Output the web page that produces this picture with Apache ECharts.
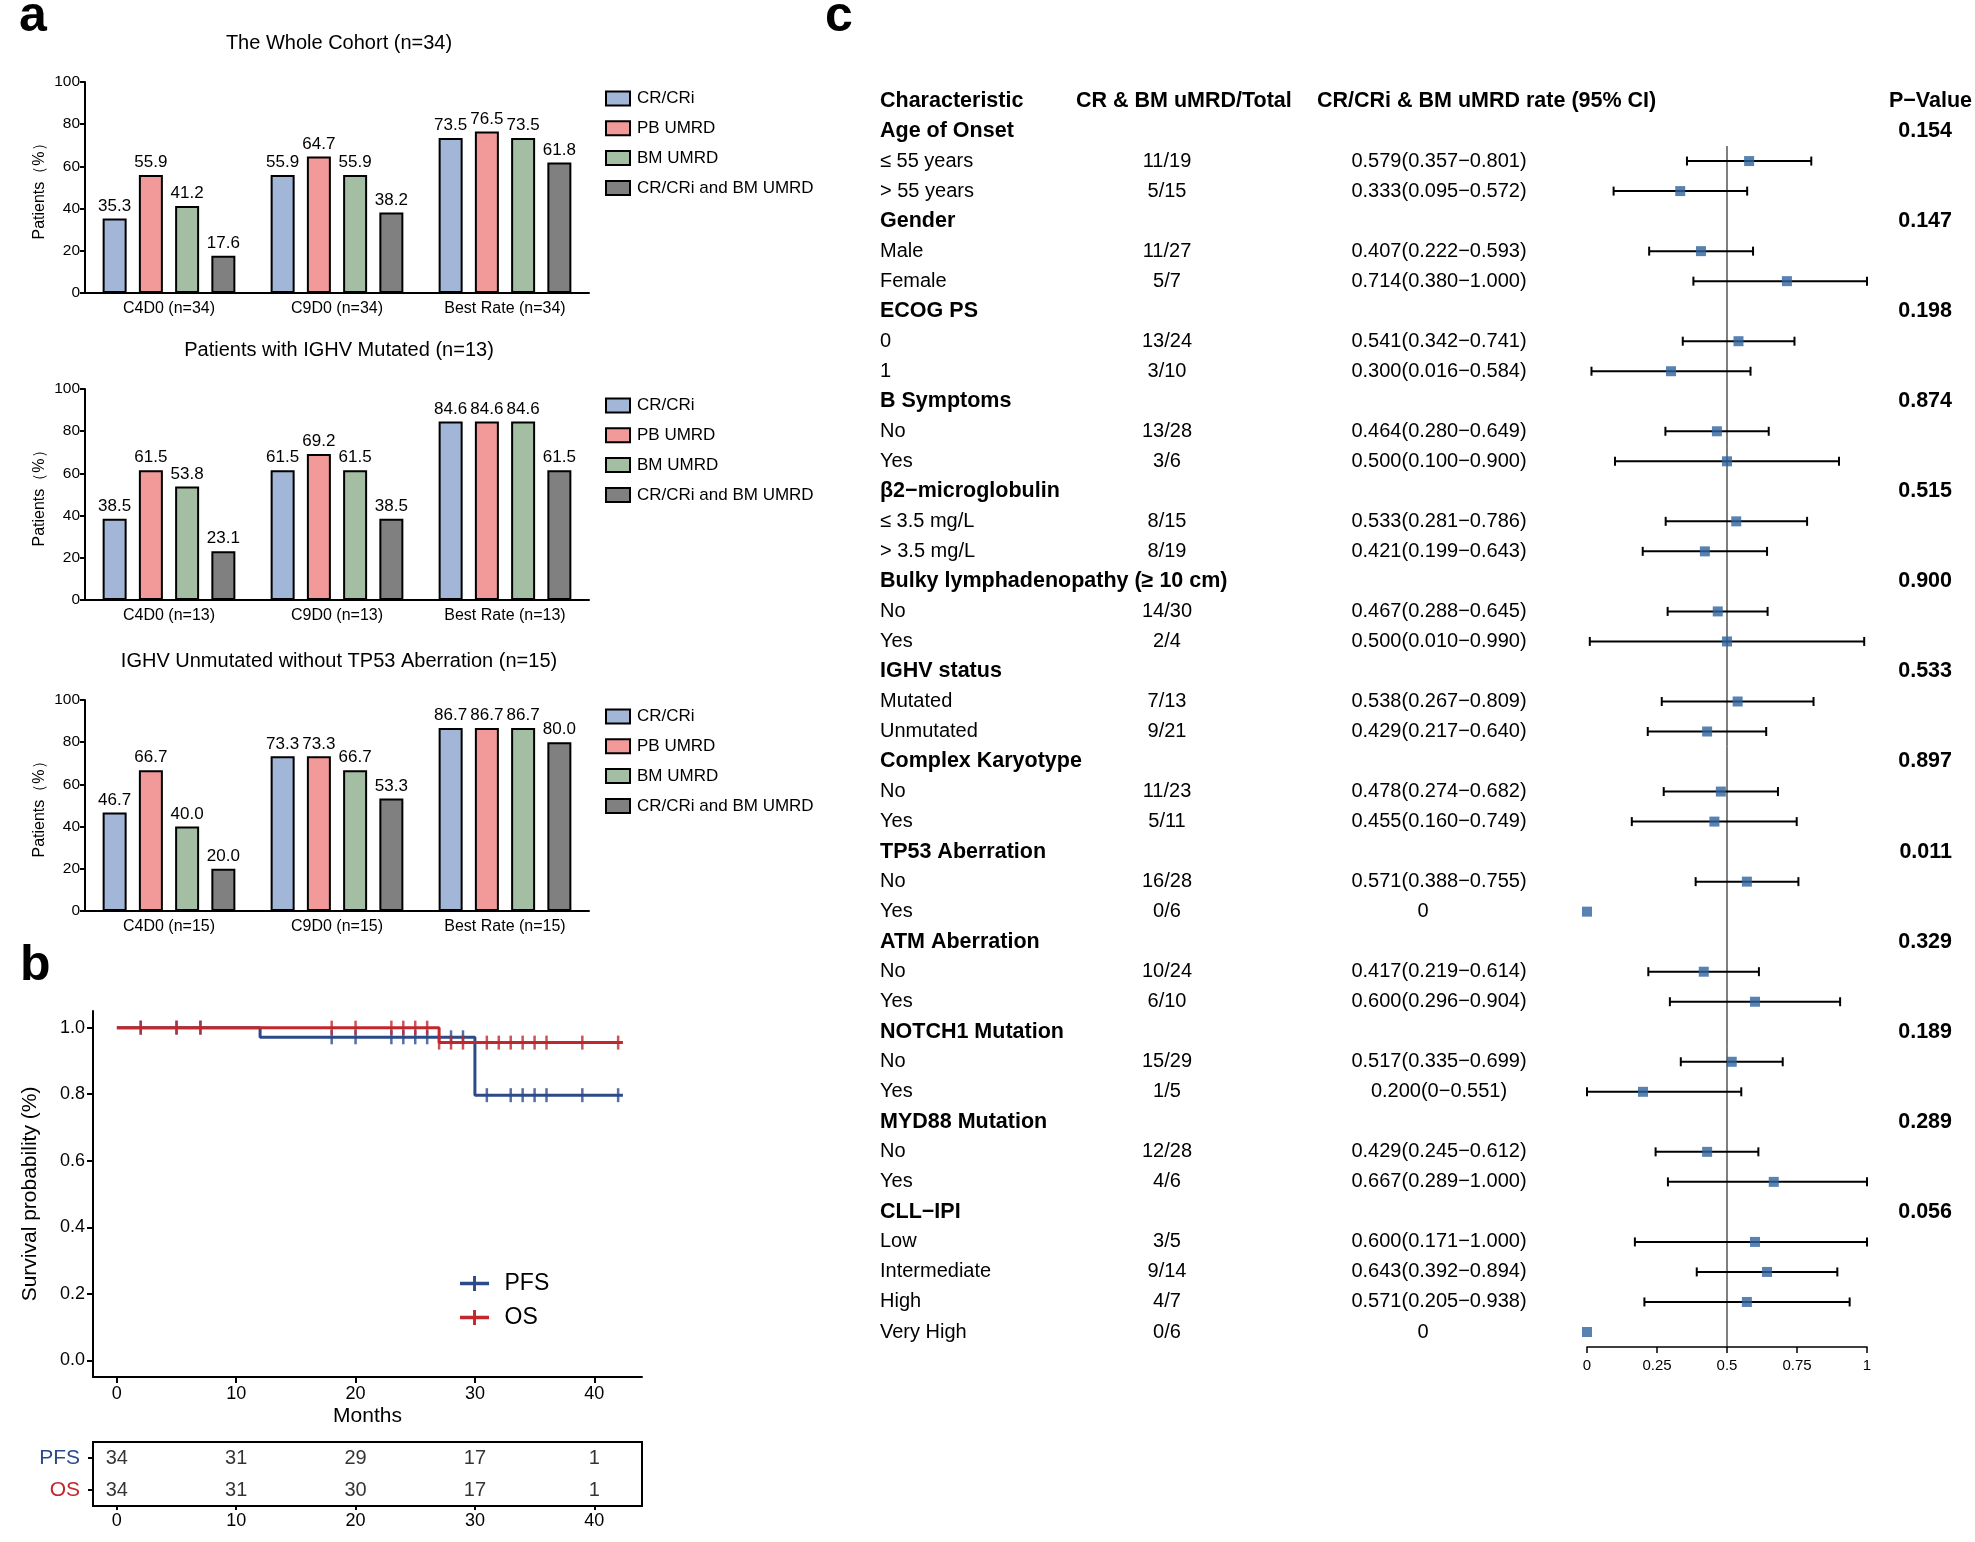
<!DOCTYPE html>
<html><head><meta charset="utf-8">
<script src="https://cdn.jsdelivr.net/npm/echarts@6/dist/echarts.min.js"></script>
<style>html,body{margin:0;padding:0;background:#fff}#c{width:1975px;height:1542px}</style>
</head><body><div id="c"></div>
<script>
const FONT = "'Liberation Sans', Arial, Helvetica, sans-serif";

// ---------- Panel a: bar charts ----------
const barTitles = ['The Whole Cohort (n=34)', 'Patients with IGHV Mutated (n=13)', 'IGHV Unmutated without TP53 Aberration (n=15)'];
const barCategoriesWhole = ['C4D0 (n=34)', 'C9D0 (n=34)', 'Best Rate (n=34)'];
const barCategoriesMut = ['C4D0 (n=13)', 'C9D0 (n=13)', 'Best Rate (n=13)'];
const barCategoriesUnmut = ['C4D0 (n=15)', 'C9D0 (n=15)', 'Best Rate (n=15)'];
const barSeriesNames = ['CR/CRi', 'PB UMRD', 'BM UMRD', 'CR/CRi and BM UMRD'];
const wholeCR = [35.3, 55.9, 73.5];
const wholePB = [55.9, 64.7, 76.5];
const wholeBM = [41.2, 55.9, 73.5];
const wholeBoth = [17.6, 38.2, 61.8];
const mutCR = [38.5, 61.5, 84.6];
const mutPB = [61.5, 69.2, 84.6];
const mutBM = [53.8, 61.5, 84.6];
const mutBoth = [23.1, 38.5, 61.5];
const unmutCR = [46.7, 73.3, 86.7];
const unmutPB = [66.7, 73.3, 86.7];
const unmutBM = [40.0, 66.7, 86.7];
const unmutBoth = [20.0, 53.3, 80.0];
const barColors = ['#A2B6D7', '#F29A9A', '#A3BEA3', '#808080'];

// ---------- Panel b: Kaplan-Meier ----------
const pfsTimes = [0, 12, 30, 42.4];
const pfsSurv = [1, 0.971, 0.797, 0.797];
const osTimes = [0, 27, 42.4];
const osSurv = [1, 0.955, 0.955];
const pfsCensorTimes = [2, 5, 7, 18, 20, 23, 24, 25, 26, 28, 29, 31, 33, 34, 35, 36, 39, 42];
const osCensorTimes = [2, 5, 7, 18, 20, 23, 24, 25, 26, 27, 28, 29, 31, 32, 33, 34, 35, 36, 39, 42];
const riskTimes = [0, 10, 20, 30, 40];
const pfsAtRisk = [34, 31, 29, 17, 1];
const osAtRisk = [34, 31, 30, 17, 1];
const kmTicksX = [0, 10, 20, 30, 40];
const kmTicksY = [0, 0.2, 0.4, 0.6, 0.8, 1.0];
const riskRows = ['PFS', 'OS'];

// ---------- Panel c: forest plot ----------
const forestHeaderChar = 'Characteristic';
const forestHeaderCount = 'CR & BM uMRD/Total';
const forestHeaderRate = 'CR/CRi & BM uMRD rate (95% CI)';
const forestHeaderP = 'P−Value';
const forestCharacteristic = ['Age of Onset', '≤ 55 years', '> 55 years', 'Gender', 'Male', 'Female', 'ECOG PS', '0', '1', 'B Symptoms', 'No', 'Yes', 'β2−microglobulin', '≤ 3.5 mg/L', '> 3.5 mg/L', 'Bulky lymphadenopathy (≥ 10 cm)', 'No', 'Yes', 'IGHV status', 'Mutated', 'Unmutated', 'Complex Karyotype', 'No', 'Yes', 'TP53 Aberration', 'No', 'Yes', 'ATM Aberration', 'No', 'Yes', 'NOTCH1 Mutation', 'No', 'Yes', 'MYD88 Mutation', 'No', 'Yes', 'CLL−IPI', 'Low', 'Intermediate', 'High', 'Very High'];
const forestCounts = ['', '11/19', '5/15', '', '11/27', '5/7', '', '13/24', '3/10', '', '13/28', '3/6', '', '8/15', '8/19', '', '14/30', '2/4', '', '7/13', '9/21', '', '11/23', '5/11', '', '16/28', '0/6', '', '10/24', '6/10', '', '15/29', '1/5', '', '12/28', '4/6', '', '3/5', '9/14', '4/7', '0/6'];
const forestRates = ['', '0.579(0.357−0.801)', '0.333(0.095−0.572)', '', '0.407(0.222−0.593)', '0.714(0.380−1.000)', '', '0.541(0.342−0.741)', '0.300(0.016−0.584)', '', '0.464(0.280−0.649)', '0.500(0.100−0.900)', '', '0.533(0.281−0.786)', '0.421(0.199−0.643)', '', '0.467(0.288−0.645)', '0.500(0.010−0.990)', '', '0.538(0.267−0.809)', '0.429(0.217−0.640)', '', '0.478(0.274−0.682)', '0.455(0.160−0.749)', '', '0.571(0.388−0.755)', '0', '', '0.417(0.219−0.614)', '0.600(0.296−0.904)', '', '0.517(0.335−0.699)', '0.200(0−0.551)', '', '0.429(0.245−0.612)', '0.667(0.289−1.000)', '', '0.600(0.171−1.000)', '0.643(0.392−0.894)', '0.571(0.205−0.938)', '0'];
const forestP = ['0.154', '', '', '0.147', '', '', '0.198', '', '', '0.874', '', '', '0.515', '', '', '0.900', '', '', '0.533', '', '', '0.897', '', '', '0.011', '', '', '0.329', '', '', '0.189', '', '', '0.289', '', '', '0.056', '', '', '', ''];
const forestEst = [null, 0.579, 0.333, null, 0.407, 0.714, null, 0.541, 0.300, null, 0.464, 0.500, null, 0.533, 0.421, null, 0.467, 0.500, null, 0.538, 0.429, null, 0.478, 0.455, null, 0.571, 0, null, 0.417, 0.600, null, 0.517, 0.200, null, 0.429, 0.667, null, 0.600, 0.643, 0.571, 0];
const forestLow = [null, 0.357, 0.095, null, 0.222, 0.380, null, 0.342, 0.016, null, 0.280, 0.100, null, 0.281, 0.199, null, 0.288, 0.010, null, 0.267, 0.217, null, 0.274, 0.160, null, 0.388, null, null, 0.219, 0.296, null, 0.335, 0, null, 0.245, 0.289, null, 0.171, 0.392, 0.205, null];
const forestHigh = [null, 0.801, 0.572, null, 0.593, 1.000, null, 0.741, 0.584, null, 0.649, 0.900, null, 0.786, 0.643, null, 0.645, 0.990, null, 0.809, 0.640, null, 0.682, 0.749, null, 0.755, null, null, 0.614, 0.904, null, 0.699, 0.551, null, 0.612, 1.000, null, 1.000, 0.894, 0.938, null];
const forestRef = 0.5;

// ---------- layout ----------
const BAR_TOPS = [82, 389, 700];
const BAR_LEFT = 85, BAR_W = 504, BAR_H = 211;
const FOREST_LEFT = 1587, FOREST_W = 281, FOREST_TOP = 86, FOREST_H = 1261;
const KM_LEFT = 93, KM_W = 549;

const chart = echarts.init(document.getElementById('c'), null, { renderer: 'canvas' });

const rowCount = forestCharacteristic.length + 1;
const charCol = [forestHeaderChar].concat(forestCharacteristic);
const countCol = [''].concat(forestCounts);
const rateCol = [''].concat(forestRates);
const pCol = [''].concat(forestP);
const headOnly = h => charCol.map((_, i) => i === 0 ? h : '');
const isBold = i => i === 0 || forestCounts[i - 1] === '';

const grids = [], xAxes = [], yAxes = [], series = [], legends = [], graphics = [];

const barSets = [
  [wholeCR, wholePB, wholeBM, wholeBoth],
  [mutCR, mutPB, mutBM, mutBoth],
  [unmutCR, unmutPB, unmutBM, unmutBoth]
];
const barCats = [barCategoriesWhole, barCategoriesMut, barCategoriesUnmut];

for (let g = 0; g < 3; g++) {
  grids.push({ left: BAR_LEFT, width: BAR_W, top: BAR_TOPS[g], height: BAR_H });
  xAxes.push({
    type: 'category', gridIndex: g, data: barCats[g],
    axisLine: { lineStyle: { color: '#000', width: 2 } },
    axisTick: { alignWithLabel: true, length: 6, lineStyle: { color: '#000', width: 2 } },
    axisLabel: { color: '#000', fontSize: 16, fontFamily: FONT, margin: 8 }
  });
  yAxes.push({
    type: 'value', gridIndex: g, min: 0, max: 100, interval: 20,
    name: 'Patients（%）', nameLocation: 'middle', nameGap: 37,
    nameTextStyle: { color: '#000', fontSize: 16, fontFamily: FONT },
    axisLine: { show: true, lineStyle: { color: '#000', width: 2 } },
    axisTick: { show: true, length: 5, lineStyle: { color: '#000', width: 2 } },
    axisLabel: { color: '#000', fontSize: 15.5, fontFamily: FONT, margin: 5 },
    splitLine: { show: false }
  });
  for (let s = 0; s < 4; s++) {
    series.push({
      type: 'bar', name: barSeriesNames[s], xAxisIndex: g, yAxisIndex: g,
      data: barSets[g][s], barWidth: 24, barGap: '51%',
      itemStyle: { color: barColors[s], borderColor: '#000', borderWidth: 2 },
      label: { show: true, position: 'top', distance: 4, color: '#000', fontSize: 17, fontFamily: FONT,
               formatter: p => p.value.toFixed(1) }
    });
  }
  legends.push({
    orient: 'vertical', left: 600, top: BAR_TOPS[g] + 3, itemWidth: 24, itemHeight: 14, itemGap: 12.8,
    icon: 'rect', data: barSeriesNames,
    itemStyle: { borderColor: '#000', borderWidth: 2 },
    textStyle: { color: '#000', fontSize: 17, fontFamily: FONT, lineHeight: 14, padding: [0, 0, 0, 2] }
  });
  graphics.push({
    type: 'text', x: 339, y: BAR_TOPS[g] - 39,
    style: { text: barTitles[g], font: '20px ' + FONT, fill: '#000', textAlign: 'center', textVerticalAlign: 'middle' }
  });
}

// KM grid (index 3)
grids.push({ left: KM_LEFT, width: KM_W, top: 1011, height: 366 });
xAxes.push({
  type: 'value', gridIndex: 3, min: -2, max: 44,
  name: 'Months', nameLocation: 'middle', nameGap: 29,
  nameTextStyle: { color: '#000', fontSize: 21, fontFamily: FONT },
  axisLine: { onZero: false, lineStyle: { color: '#000', width: 2 } },
  axisTick: { customValues: kmTicksX, length: 6, lineStyle: { color: '#000', width: 2 } },
  axisLabel: { customValues: kmTicksX, color: '#000', fontSize: 18, fontFamily: FONT, margin: 8 },
  splitLine: { show: false }
});
yAxes.push({
  type: 'value', gridIndex: 3, min: -0.05, max: 1.05,
  name: 'Survival probability (%)', nameLocation: 'middle', nameGap: 52,
  nameTextStyle: { color: '#000', fontSize: 21, fontFamily: FONT },
  axisLine: { show: true, onZero: false, lineStyle: { color: '#000', width: 2 } },
  axisTick: { show: true, customValues: kmTicksY, length: 6, lineStyle: { color: '#000', width: 2 } },
  axisLabel: { customValues: kmTicksY, color: '#000', fontSize: 18, fontFamily: FONT, margin: 8, formatter: v => v.toFixed(1) },
  splitLine: { show: false }
});

// Risk table grid (index 4)
grids.push({ left: KM_LEFT, width: KM_W, top: 1442, height: 64, show: true, borderColor: '#000', borderWidth: 2, backgroundColor: 'transparent' });
xAxes.push({
  type: 'value', gridIndex: 4, min: -2, max: 44,
  axisLine: { show: false, onZero: false },
  axisTick: { show: true, customValues: kmTicksX, length: 4, lineStyle: { color: '#000', width: 2 } },
  axisLabel: { customValues: kmTicksX, color: '#000', fontSize: 18, fontFamily: FONT, margin: 6 },
  splitLine: { show: false }
});
yAxes.push({
  type: 'category', gridIndex: 4, data: riskRows, inverse: true,
  axisLine: { show: false, onZero: false },
  axisTick: { show: true, alignWithLabel: true, length: 5, lineStyle: { color: '#000', width: 2 } },
  axisLabel: { margin: 13, fontSize: 21, fontFamily: FONT,
    formatter: v => v === 'PFS' ? '{p|PFS}' : '{o|OS}',
    rich: { p: { color: '#2C4A8A', fontSize: 21, fontFamily: FONT }, o: { color: '#C1272D', fontSize: 21, fontFamily: FONT } } }
});

// Forest grid (index 5)
grids.push({ left: FOREST_LEFT, width: FOREST_W, top: FOREST_TOP, height: FOREST_H });
xAxes.push({
  type: 'value', gridIndex: 5, min: 0, max: 1, interval: 0.25,
  axisLine: { onZero: false, lineStyle: { color: '#000', width: 1.5 } },
  axisTick: { length: 6, lineStyle: { color: '#000', width: 1.5 } },
  axisLabel: { color: '#000', fontSize: 15, fontFamily: FONT, margin: 11, formatter: v => String(v) },
  splitLine: { show: false }
});
yAxes.push({ type: 'value', gridIndex: 5, min: -0.5, max: rowCount - 0.5, inverse: true, show: false });

function labelAxis(data, margin, align, position, zeroShift) {
  return {
    type: 'category', gridIndex: 5, data: data, inverse: true, position: position || 'left',
    axisLine: { show: false, onZero: false }, axisTick: { show: false }, splitLine: { show: false },
    axisLabel: {
      interval: 0, margin: margin, align: align, color: '#000', fontSize: 20, fontFamily: FONT,
      formatter: (v, i) => {
        if (v === '') return '';
        if (isBold(i)) return '{b|' + v + '}';
        if (zeroShift && v === '0') return '{z|' + v + '}';
        return '{n|' + v + '}';
      },
      rich: {
        b: { fontWeight: 'bold', fontSize: 21.5, fontFamily: FONT, color: '#000' },
        n: { fontSize: 20, fontFamily: FONT, color: '#000' },
        z: { fontSize: 20, fontFamily: FONT, color: '#000', padding: [0, 32, 0, 0] }
      }
    }
  };
}
const FOREST_RIGHT = FOREST_LEFT + FOREST_W;
yAxes.push(labelAxis(charCol, FOREST_LEFT - 880, 'left'));                   // 6
yAxes.push(labelAxis(countCol, FOREST_LEFT - 1167, 'center'));               // 7
yAxes.push(labelAxis(headOnly(forestHeaderCount), FOREST_LEFT - 1076, 'left')); // 8
yAxes.push(labelAxis(rateCol, FOREST_LEFT - 1439, 'center', 'left', true));  // 9
yAxes.push(labelAxis(headOnly(forestHeaderRate), FOREST_LEFT - 1317, 'left')); // 10
yAxes.push(labelAxis(pCol, 1953 - FOREST_RIGHT, 'right', 'right'));          // 11
yAxes.push(labelAxis(headOnly(forestHeaderP), 1973 - FOREST_RIGHT, 'right', 'right')); // 12

// KM series
function survAt(times, surv, t) {
  let v = surv[0];
  for (let i = 0; i < times.length; i++) if (times[i] <= t) v = surv[i];
  return v;
}
const PFS_COLOR = '#2C4A8A', OS_COLOR = '#C1272D';
series.push({
  type: 'line', name: 'PFS', xAxisIndex: 3, yAxisIndex: 3, step: 'end', symbol: 'none',
  data: pfsTimes.map((t, i) => [t, pfsSurv[i]]),
  lineStyle: { color: PFS_COLOR, width: 3 }, itemStyle: { color: PFS_COLOR }, z: 2
});
series.push({
  type: 'scatter', name: 'PFS', xAxisIndex: 3, yAxisIndex: 3, symbol: 'rect', symbolSize: [2.5, 14],
  data: pfsCensorTimes.map(t => [t, survAt(pfsTimes, pfsSurv, t)]),
  itemStyle: { color: PFS_COLOR }, z: 2
});
series.push({
  type: 'line', name: 'OS', xAxisIndex: 3, yAxisIndex: 3, step: 'end', symbol: 'none',
  data: osTimes.map((t, i) => [t, osSurv[i]]),
  lineStyle: { color: OS_COLOR, width: 3 }, itemStyle: { color: OS_COLOR }, z: 3
});
series.push({
  type: 'scatter', name: 'OS', xAxisIndex: 3, yAxisIndex: 3, symbol: 'rect', symbolSize: [2.5, 14],
  data: osCensorTimes.map(t => [t, survAt(osTimes, osSurv, t)]),
  itemStyle: { color: OS_COLOR }, z: 3
});
legends.push({
  orient: 'vertical', left: 455, top: 1267, itemWidth: 30, itemHeight: 15, itemGap: 11,
  data: ['PFS', 'OS'],
  icon: 'path://M0,6H30V9.5H0Z M13.5,0H16.5V15.5H13.5Z',
  textStyle: { color: '#000', fontSize: 23, fontFamily: FONT, lineHeight: 21, padding: [0, 0, 0, 10] }
});

// Risk table numbers
series.push({
  type: 'scatter', xAxisIndex: 4, yAxisIndex: 4, symbolSize: 0, silent: true,
  data: riskTimes.map((t, i) => [t, 0, pfsAtRisk[i]]).concat(riskTimes.map((t, i) => [t, 1, osAtRisk[i]])),
  label: { show: true, position: 'inside', color: '#000', fontSize: 20, fontFamily: FONT, formatter: p => String(p.data[2]) }
});

// Forest series
const ciData = [], estData = [];
forestEst.forEach((e, i) => {
  const row = i + 1;
  if (e !== null) estData.push([e, row]);
  if (forestLow[i] !== null) ciData.push([forestLow[i], forestHigh[i], row]);
});
series.push({
  type: 'line', xAxisIndex: 5, yAxisIndex: 5, symbol: 'none', silent: true,
  data: [[forestRef, 1.5], [forestRef, rowCount - 0.5]],
  lineStyle: { color: '#000', width: 1 }, z: 1
});
series.push({
  type: 'custom', xAxisIndex: 5, yAxisIndex: 5, data: ciData, encode: { x: [0, 1], y: 2 }, silent: true, z: 2,
  renderItem: (params, api) => {
    const a = api.coord([api.value(0), api.value(2)]);
    const b = api.coord([api.value(1), api.value(2)]);
    const cap = 4.5;
    const st = { stroke: '#000', lineWidth: 2 };
    return { type: 'group', children: [
      { type: 'line', shape: { x1: a[0], y1: a[1], x2: b[0], y2: b[1] }, style: st },
      { type: 'line', shape: { x1: a[0], y1: a[1] - cap, x2: a[0], y2: a[1] + cap }, style: st },
      { type: 'line', shape: { x1: b[0], y1: b[1] - cap, x2: b[0], y2: b[1] + cap }, style: st }
    ] };
  }
});
series.push({
  type: 'scatter', xAxisIndex: 5, yAxisIndex: 5, symbol: 'rect', symbolSize: 10, clip: false,
  data: estData, itemStyle: { color: '#2D639E' }, z: 3
});

// Panel letters
[['a', 19, 17], ['b', 20, 966], ['c', 825, 17]].forEach(([t, x, y]) => {
  graphics.push({ type: 'text', x: x, y: y, style: { text: t, font: 'bold 50px ' + FONT, fill: '#000', textVerticalAlign: 'middle' } });
});

chart.setOption({
  backgroundColor: '#fff',
  animation: false,
  grid: grids,
  xAxis: xAxes,
  yAxis: yAxes,
  legend: legends,
  series: series,
  graphic: graphics
});
</script>
</body></html>
